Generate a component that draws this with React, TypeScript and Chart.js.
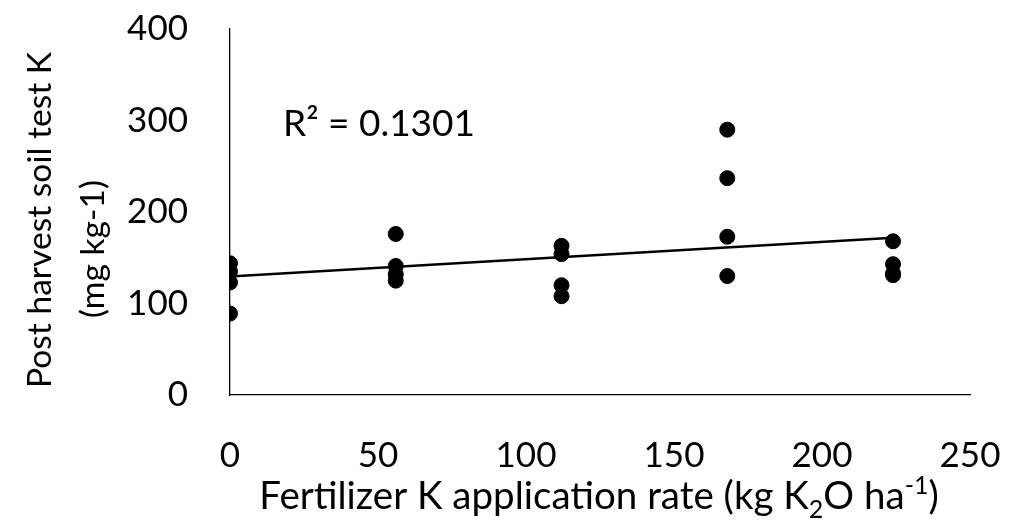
import React, { useEffect, useRef } from "react";
import { Chart, registerables } from "chart.js";

Chart.register(...registerables);

// Fertilizer K application rates (kg K2O/ha)
const rates = [0, 56, 112, 168, 224];
// Post-harvest soil test K (mg/kg) at each rate
const soilK0 = [144, 135, 123, 89];
const soilK56 = [176, 141, 132, 125];
const soilK112 = [163, 154, 120, 108];
const soilK168 = [290, 237, 173, 130];
const soilK224 = [168, 143, 133, 131];
const yTicks = [0, 100, 200, 300, 400];
const xTicks = [0, 50, 100, 150, 200, 250];
const rSquaredLabel = "R\u00B2 = 0.1301";

const FONT = "Lato";

export default function App() {
  const ref = useRef<HTMLCanvasElement | null>(null);

  useEffect(() => {
    if (!ref.current) return;
    const groups = [soilK0, soilK56, soilK112, soilK168, soilK224];
    const pts: { x: number; y: number }[] = [];
    groups.forEach((g, i) => g.forEach((v) => pts.push({ x: rates[i], y: v })));

    // least squares trendline
    const n = pts.length;
    const sx = pts.reduce((a, p) => a + p.x, 0);
    const sy = pts.reduce((a, p) => a + p.y, 0);
    const sxy = pts.reduce((a, p) => a + p.x * p.y, 0);
    const sxx = pts.reduce((a, p) => a + p.x * p.x, 0);
    const slope = (n * sxy - sx * sy) / (n * sxx - sx * sx);
    const icpt = (sy - slope * sx) / n;
    const xMin = Math.min(...rates);
    const xMax = Math.max(...rates);
    const trend = [
      { x: xMin, y: icpt + slope * xMin },
      { x: xMax, y: icpt + slope * xMax },
    ];

    const textPlugin = {
      id: "textPlugin",
      afterDraw(chart: any) {
        const ctx = chart.ctx as CanvasRenderingContext2D;
        ctx.save();
        ctx.fillStyle = "#000";
        const xt = `38.5px ${FONT}`;
        const xs = `25px ${FONT}`;
        // x title with sub/superscripts
        const parts = [
          { t: "Fertilizer K application rate (kg K", f: xt, dy: 0 },
          { t: "2", f: xs, dy: 9 },
          { t: "O ha", f: xt, dy: 0 },
          { t: "-1", f: xs, dy: -15 },
          { t: ")", f: xt, dy: 0 },
        ];
        let total = 0;
        parts.forEach((p) => {
          ctx.font = p.f;
          total += ctx.measureText(p.t).width;
        });
        let x = 599 - total / 2;
        const base = 509;
        ctx.textBaseline = "alphabetic";
        ctx.textAlign = "left";
        parts.forEach((p) => {
          ctx.font = p.f;
          ctx.fillText(p.t, x, base + p.dy);
          x += ctx.measureText(p.t).width;
        });
        // y title
        ctx.font = `33.6px ${FONT}`;
        ctx.textAlign = "center";
        ctx.textBaseline = "middle";
        ctx.save();
        ctx.translate(40, 220);
        ctx.rotate(-Math.PI / 2);
        ctx.fillText("Post harvest soil test K", 0, 0);
        ctx.restore();
        ctx.save();
        ctx.translate(93, 249);
        ctx.rotate(-Math.PI / 2);
        ctx.fillText("(mg kg-1)", 0, 0);
        ctx.restore();
        // R squared
        ctx.textAlign = "left";
        ctx.textBaseline = "alphabetic";
        ctx.font = `37px ${FONT}`;
        ctx.fillText(rSquaredLabel, 283, 136);
        ctx.restore();
      },
    };

    const chart = new Chart(ref.current, {
      type: "scatter",
      data: {
        datasets: [
          {
            type: "line",
            data: trend,
            borderColor: "#000",
            borderWidth: 2.5,
            pointRadius: 0,
            fill: false,
          } as any,
          {
            type: "scatter",
            data: pts,
            backgroundColor: "#000",
            borderColor: "#000",
            pointRadius: 7.5,
            pointHoverRadius: 7.5,
          },
        ],
      },
      options: {
        animation: false,
        responsive: false,
        events: [],
        layout: { padding: { top: 29, right: 60, left: 0, bottom: 0 } },
        plugins: {
          legend: { display: false },
          tooltip: { enabled: false },
        },
        scales: {
          x: {
            type: "linear",
            min: 0,
            max: 250,
            afterBuildTicks: (s: any) => {
              s.ticks = xTicks.map((v) => ({ value: v }));
            },
            afterFit: (s: any) => {
              s.height = 137;
              s.paddingLeft = 0;
              s.paddingRight = 0;
            },
            grid: { display: false, drawTicks: false },
            border: { display: true, color: "#000", width: 1.3 },
            ticks: {
              color: "#000",
              padding: 40,
              font: { family: FONT, size: 35 },
            },
          },
          y: {
            type: "linear",
            min: 0,
            max: 400,
            afterBuildTicks: (s: any) => {
              s.ticks = yTicks.map((v) => ({ value: v }));
            },
            afterFit: (s: any) => {
              s.width = 230;
              s.paddingTop = 0;
              s.paddingBottom = 0;
            },
            grid: { display: false, drawTicks: false },
            border: { display: true, color: "#000", width: 1.3 },
            ticks: {
              color: "#000",
              padding: 42,
              font: { family: FONT, size: 35 },
            },
          },
        },
      },
      plugins: [textPlugin],
    });
    return () => chart.destroy();
  }, []);

  return (
    <div style={{ position: "fixed", left: 0, top: 0, width: 1030, height: 532, background: "#fff" }}>
      <canvas ref={ref} width={1030} height={532} style={{ display: "block" }} />
    </div>
  );
}
